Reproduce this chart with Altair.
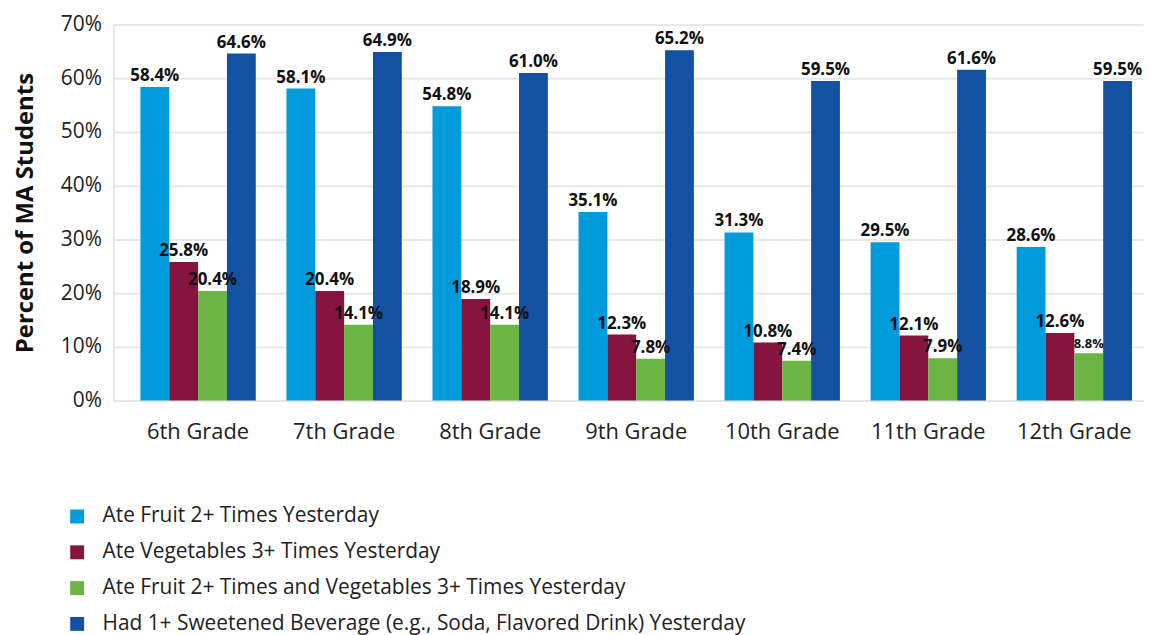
import altair as alt
import pandas as pd

grades = ["6th Grade", "7th Grade", "8th Grade", "9th Grade", "10th Grade", "11th Grade", "12th Grade"]
series = [
    "Ate Fruit 2+ Times Yesterday",
    "Ate Vegetables 3+ Times Yesterday",
    "Ate Fruit 2+ Times and Vegetables 3+ Times Yesterday",
    "Had 1+ Sweetened Beverage (e.g., Soda, Flavored Drink) Yesterday",
]
fruit = [58.4, 58.1, 54.8, 35.1, 31.3, 29.5, 28.6]
veg = [25.8, 20.4, 18.9, 12.3, 10.8, 12.1, 12.6]
both = [20.4, 14.1, 14.1, 7.8, 7.4, 7.9, 8.8]
soda = [64.6, 64.9, 61.0, 65.2, 59.5, 61.6, 59.5]
colors = ["#009BDB", "#85143E", "#6CB544", "#1352A2"]

rows = []
for s, vals in zip(series, [fruit, veg, both, soda]):
    for g, v in zip(grades, vals):
        rows.append({"grade": g, "series": s, "value": v})
df = pd.DataFrame(rows)

FONT = "Open Sans"

x = alt.X("grade:N", sort=grades, title=None,
          scale=alt.Scale(paddingInner=0.21, paddingOuter=0.13, align=0.71),
          axis=alt.Axis(labelAngle=0, labelFontSize=22, labelColor="#222222", labelFont=FONT,
                        ticks=False, labelPadding=21, domainColor="#e6e6e6", domainWidth=2))
xo = alt.XOffset("series:N", sort=series)
y = alt.Y("value:Q", title="Percent of MA Students",
          scale=alt.Scale(domain=[0, 70], nice=False),
          axis=alt.Axis(values=[0, 10, 20, 30, 40, 50, 60, 70], labelExpr="datum.value + '%'",
                        labelFontSize=21, labelColor="#222222", labelFont=FONT, ticks=False,
                        labelPadding=12, gridColor="#e8e8e8", gridWidth=2,
                        domainColor="#e6e6e6", domainWidth=2,
                        titleFontSize=24, titleFont=FONT, titleFontWeight="bold",
                        titleColor="#111111", titlePadding=23))
color = alt.Color("series:N", sort=series,
                  scale=alt.Scale(domain=series, range=colors),
                  legend=alt.Legend(title=None, orient="none", legendX=-47, legendY=484,
                                    direction="vertical", symbolType="square", symbolSize=196,
                                    symbolStrokeWidth=0, labelFontSize=21, labelFont=FONT,
                                    labelColor="#222222", labelLimit=1000, rowPadding=14,
                                    labelOffset=15))

bars = alt.Chart(df).mark_bar().encode(x=x, xOffset=xo, y=y, color=color)

text = alt.Chart(df).transform_calculate(
    label="format(datum.value, '.1f') + '%'"
).mark_text(baseline="bottom", dy=-2, fontWeight="bold", font=FONT, color="#111111").encode(
    x=x, xOffset=xo, y=y, text="label:N",
    size=alt.condition("datum.label == '8.8%'", alt.value(13), alt.value(17)),
)

chart = (bars + text).properties(
    width=1035, height=378,
    padding={"left": 5, "top": 4, "right": 5, "bottom": 5},
).configure_view(stroke=None)

chart.save("out.html", embed_options={"renderer": "svg", "actions": False})
